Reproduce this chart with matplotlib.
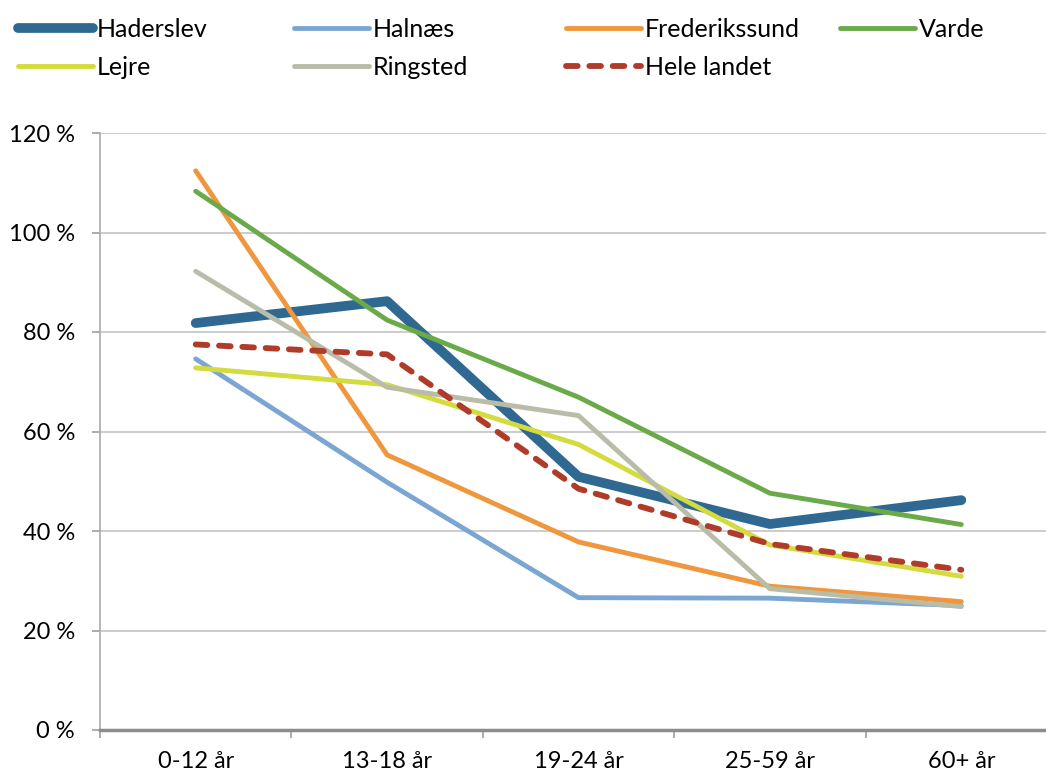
import matplotlib
matplotlib.use("Agg")
import matplotlib.pyplot as plt
from matplotlib.ticker import FuncFormatter, FixedLocator

categories = ["0-12 år", "13-18 år", "19-24 år", "25-59 år", "60+ år"]
haderslev = [81.8, 86.2, 50.9, 41.4, 46.2]
halnaes = [74.6, 49.8, 26.6, 26.5, 25.0]
frederikssund = [112.4, 55.3, 37.8, 28.9, 25.8]
varde = [108.3, 82.4, 66.9, 47.6, 41.3]
lejre = [72.8, 69.4, 57.4, 37.2, 30.9]
ringsted = [92.2, 68.9, 63.2, 28.4, 24.8]
hele_landet = [77.5, 75.5, 48.5, 37.4, 32.2]

series = [
    ("Haderslev", haderslev, "#2F6891", 7.0, "-"),
    ("Halnæs", halnaes, "#7BA6D1", 3.5, "-"),
    ("Frederikssund", frederikssund, "#F0963C", 3.5, "-"),
    ("Varde", varde, "#6BAA49", 3.5, "-"),
    ("Lejre", lejre, "#D3DB3E", 3.5, "-"),
    ("Ringsted", ringsted, "#B9BCA7", 3.5, "-"),
    ("Hele landet", hele_landet, "#AF3B2A", 4.2, (0, (2.0, 2.0))),
]

plt.rcParams['font.family'] = ['Lato', 'DejaVu Sans']
fig = plt.figure(figsize=(10.46, 7.74), dpi=100)
ax = fig.add_axes([100/1046, 44/774, 957/1046, 597/774])

x = list(range(len(categories)))
handles = []
for name, vals, col, lw, ls in series:
    h, = ax.plot(x, vals, color=col, lw=lw, ls=ls, label=name,
                 solid_capstyle='round', dash_capstyle='round', zorder=3)
    handles.append(h)

ax.set_xlim(-0.5, 4.5)
ax.set_ylim(0, 120)
ax.set_yticks(range(0, 121, 20))
ax.yaxis.set_major_formatter(FuncFormatter(lambda v, p: f"{int(v)} %"))
ax.xaxis.set_major_locator(FixedLocator([-0.5, 0.5, 1.5, 2.5, 3.5, 4.5]))
ax.xaxis.set_major_formatter(FuncFormatter(lambda v, p: ""))
ax.xaxis.set_minor_locator(FixedLocator(x))
ax.xaxis.set_minor_formatter(FuncFormatter(lambda v, p: categories[int(round(v))]))
ax.tick_params(axis='x', which='minor', length=0, pad=15, labelsize=17)
ax.tick_params(axis='x', which='major', length=6, color='#a6a6a6', width=1.3)
ax.tick_params(axis='y', length=6, color='#a6a6a6', width=1.3, labelsize=17, pad=12)

ax.grid(axis='y', color='#c8c8c8', lw=1.3, zorder=0)
for s in ['top', 'right']:
    ax.spines[s].set_visible(False)
ax.spines['left'].set_color('#b0b0b0')
ax.spines['left'].set_linewidth(1.3)
ax.spines['bottom'].set_color('#8c8c8c')
ax.spines['bottom'].set_linewidth(2.5)
ax.set_axisbelow(True)

# legend laid out row-major in 4 evenly spaced columns
cols = [[0, 4], [1, 5], [2, 6], [3]]
col_x = [8/1046, 284/1046, 556/1046, 830/1046]
for cx, idxs in zip(col_x, cols):
    fig.legend(handles=[handles[i] for i in idxs], loc='upper left',
               bbox_to_anchor=(cx, 0.990), ncol=1, frameon=False, fontsize=18,
               handlelength=3.0, handletextpad=0.15, labelspacing=0.6,
               borderaxespad=0.0)

fig.savefig("out.png", dpi=100)
